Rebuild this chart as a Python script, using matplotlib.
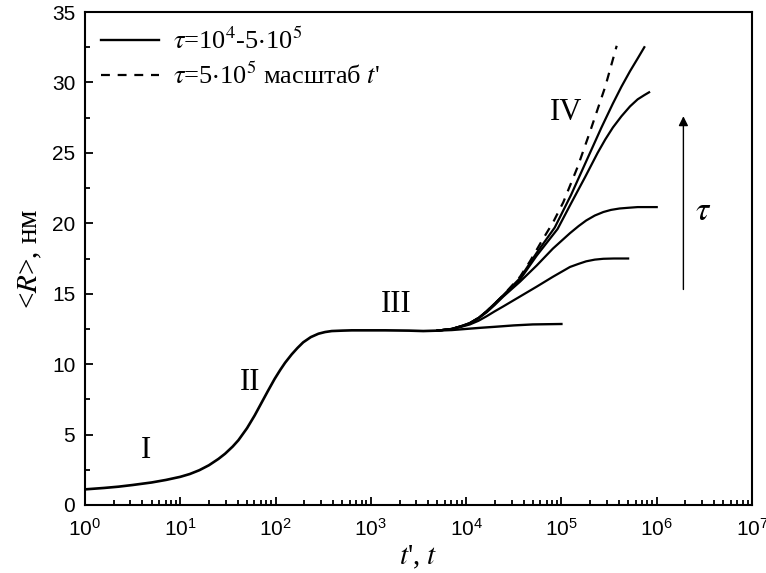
import numpy as np
import matplotlib
matplotlib.use("Agg")
import matplotlib.pyplot as plt
from matplotlib.ticker import FixedLocator, FuncFormatter, LogLocator, NullFormatter

plt.rcParams['mathtext.fontset'] = 'stix'
plt.rcParams['font.family'] = ['Liberation Serif', 'DejaVu Serif']

# ---- data (log10 of time, <R> in nm) ----
log_t_common = [0.0, 0.20, 0.35, 0.50, 0.70, 0.85, 1.0, 1.10, 1.20, 1.30, 1.40, 1.47, 1.55,
                1.61, 1.70, 1.78, 1.84, 1.92, 1.99, 2.05, 2.10, 2.17, 2.23, 2.29, 2.37,
                2.45, 2.52, 2.59, 2.70, 2.80, 3.15, 3.40, 3.55, 3.70]
R_common = [1.11, 1.21, 1.30, 1.42, 1.60, 1.78, 2.00, 2.20, 2.47, 2.82, 3.27, 3.64, 4.15,
            4.60, 5.45, 6.35, 7.10, 8.10, 8.95, 9.60, 10.10, 10.70, 11.15, 11.55, 11.92,
            12.16, 12.28, 12.35, 12.38, 12.40, 12.40, 12.38, 12.35, 12.38]

log_t_A = [3.70, 3.85, 4.00, 4.15, 4.30, 4.50, 4.70, 5.00]
R_A = [12.38, 12.42, 12.50, 12.58, 12.65, 12.75, 12.82, 12.85]

log_t_B = [3.70, 3.85, 3.95, 4.04, 4.13, 4.215, 4.30, 4.39, 4.565, 4.74, 4.91, 5.09,
           5.18, 5.26, 5.35, 5.44, 5.55, 5.70]
R_B = [12.38, 12.50, 12.65, 12.82, 13.08, 13.40, 13.75, 14.10, 14.80, 15.50, 16.20, 16.90,
       17.12, 17.30, 17.42, 17.48, 17.50, 17.50]

log_t_C = [3.70, 3.85, 3.95, 4.04, 4.13, 4.215, 4.30, 4.39, 4.565, 4.74, 4.91, 5.09,
           5.18, 5.26, 5.35, 5.44, 5.52, 5.61, 5.70, 5.80, 6.00]
R_C = [12.38, 12.50, 12.68, 12.90, 13.25, 13.68, 14.20, 14.80, 15.85, 17.00, 18.20, 19.30,
       19.80, 20.20, 20.55, 20.80, 20.95, 21.05, 21.10, 21.15, 21.15]

log_t_D = [3.70, 3.85, 3.95, 4.04, 4.13, 4.215, 4.30, 4.39, 4.565, 4.74, 4.96, 5.10,
           5.25, 5.38, 5.46, 5.54, 5.63, 5.72, 5.80, 5.87, 5.92]
R_D = [12.38, 12.50, 12.70, 12.92, 13.28, 13.75, 14.30, 14.85, 16.00, 17.70, 19.60, 21.40,
       23.30, 25.00, 25.95, 26.80, 27.60, 28.30, 28.80, 29.10, 29.30]

log_t_E = [3.70, 3.85, 3.95, 4.04, 4.13, 4.215, 4.30, 4.39, 4.565, 4.74, 4.93, 5.10,
           5.20, 5.30, 5.42, 5.54, 5.63, 5.72, 5.80, 5.87]
R_E = [12.38, 12.50, 12.70, 12.92, 13.28, 13.75, 14.30, 14.90, 16.10, 17.90, 19.70, 22.00,
       23.50, 25.00, 26.80, 28.50, 29.70, 30.80, 31.70, 32.50]

log_t_dash = [3.70, 3.85, 3.95, 4.04, 4.13, 4.215, 4.30, 4.39, 4.565, 4.67, 4.79, 4.915,
              5.02, 5.17, 5.30, 5.46, 5.58]
R_dash = [12.38, 12.50, 12.70, 12.92, 13.28, 13.75, 14.30, 14.90, 16.20, 17.30, 18.70, 20.10,
          21.50, 24.00, 26.50, 29.70, 32.60]

legend_labels = [r"$\tau$=10$^4$-5$\cdot$10$^5$", r"$\tau$=5$\cdot$10$^5$ масштаб $t$'"]
region_labels = ["I", "II", "III", "IV"]
region_pos = [(0.64, 3.9), (1.73, 8.7), (3.27, 14.2), (5.05, 27.9)]

x_ticks = [10.0**k for k in range(0, 8)]
y_ticks = [0, 5, 10, 15, 20, 25, 30, 35]

# ---- figure ----
fig = plt.figure(figsize=(7.66, 5.73), dpi=100)
ax = fig.add_axes([85/766, 1 - 505/573, (752-85)/766, (505-12)/573])

def tt(a):
    return 10.0**np.asarray(a)

ax.plot(tt(log_t_common), R_common, color='black', lw=1.9, solid_joinstyle='round')
line_solid, = ax.plot(tt(log_t_A), R_A, color='black', lw=1.7, solid_joinstyle='round')
for lt, rr in [(log_t_B, R_B), (log_t_C, R_C), (log_t_D, R_D), (log_t_E, R_E)]:
    ax.plot(tt(lt), rr, color='black', lw=1.6, solid_joinstyle='round')
line_dash, = ax.plot(tt(log_t_dash), R_dash, color='black', lw=1.6, ls=(0, (4, 3.5)))

ax.set_xscale('log')
ax.set_xlim(1, 1e7)
ax.set_ylim(0, 35)

ax.xaxis.set_major_locator(FixedLocator(x_ticks))
ax.xaxis.set_minor_locator(LogLocator(base=10, subs=np.arange(2, 10), numticks=20))
ax.xaxis.set_minor_formatter(NullFormatter())
ax.xaxis.set_major_formatter(FuncFormatter(lambda v, p: r"$\mathregular{10^{%d}}$" % int(round(np.log10(v)))))
ax.yaxis.set_major_locator(FixedLocator(y_ticks))
ax.yaxis.set_minor_locator(FixedLocator([2.5 + 5*k for k in range(7)]))

ax.tick_params(which='both', direction='in', top=False, right=False, width=1.3)
ax.tick_params(which='major', length=6, labelsize=15)
ax.tick_params(axis='x', which='major', pad=9)
ax.tick_params(axis='y', which='major', pad=7)
ax.tick_params(which='minor', length=3.5)
for lab in ax.get_xticklabels() + ax.get_yticklabels():
    lab.set_family(['Liberation Sans', 'DejaVu Sans'])
for s in ax.spines.values():
    s.set_linewidth(1.5)

ax.set_xlabel(r"$t$', $t$", fontsize=21, labelpad=3)
ax.set_ylabel(r"<$R$>, нм", fontsize=21, labelpad=6)

for lab, (lx, ly) in zip(region_labels, region_pos):
    ax.text(10**lx, ly, lab, fontsize=22, ha='center', va='center')

ax.annotate('', xy=(10**6.28, 27.6), xytext=(10**6.28, 15.3),
            arrowprops=dict(arrowstyle='-|>', color='black', lw=1.0,
                            mutation_scale=14, shrinkA=0, shrinkB=0))
ax.text(10**6.49, 20.8, r"$\tau$", fontsize=24, ha='center', va='center')

leg = ax.legend([line_solid, line_dash], legend_labels, loc='upper left',
                bbox_to_anchor=(0.0, 1.0), frameon=False, fontsize=19,
                handlelength=2.2, handletextpad=0.55, labelspacing=0.35,
                borderaxespad=0.3, borderpad=0.3)

fig.savefig('out.png', dpi=100)
